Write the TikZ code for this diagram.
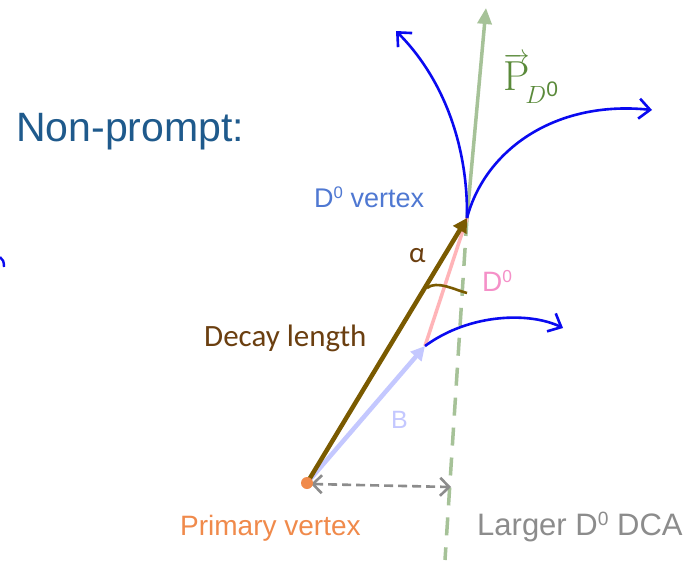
\documentclass[tikz,border=0pt]{standalone}
\usepackage{fontspec}
\setmainfont{Liberation Sans}
\newfontfamily\calib{Carlito}
\newfontfamily\lmr{Latin Modern Roman}
\usetikzlibrary{arrows.meta}
\definecolor{titleblue}{HTML}{1F5A8C}
\definecolor{vtxblue}{HTML}{4F78D2}
\definecolor{trk}{HTML}{0A0AF0}
\definecolor{brownc}{HTML}{7A5A00}
\definecolor{browntxt}{HTML}{6B3F10}
\definecolor{lav}{HTML}{C4C8FF}
\definecolor{pinkc}{HTML}{FFB4B8}
\definecolor{pinktxt}{HTML}{F590C8}
\definecolor{greenl}{HTML}{A6C298}
\definecolor{greentxt}{HTML}{5A8A3A}
\definecolor{grayc}{HTML}{8C8C8C}
\definecolor{orangec}{HTML}{F08A4B}
\newcommand{\supz}{\raisebox{0.32em}{\scalebox{0.62}{0}}}
\tikzset{
  track/.style={trk, line width=2.6pt, -{Straight Barb[length=11pt,width=20pt]}},
  lbl/.style={inner sep=0pt, anchor=base west},
}
\begin{document}
\begin{tikzpicture}[x=1pt,y=-1pt]
\useasboundingbox (0,0) rectangle (685,560);
\fill[white] (0,0) rectangle (685,560);
% coordinates
\coordinate (pv) at (307,483);
\coordinate (dv) at (467,218);
\coordinate (bend) at (425,346);
\coordinate (gtop) at (486,8);
\coordinate (gbot) at (445,560);
\coordinate (dca) at (451,487);
% green momentum line
\draw[greenl, line width=3.5pt, dash pattern=on 18pt off 12pt] (dv) -- (gbot);
\draw[greenl, line width=3.5pt, -{Triangle[length=16pt,width=14pt]}] (dv) -- (gtop);
% pink D0 flight
\draw[pinkc, line width=3.5pt] (bend) -- (dv);
% B flight
\draw[lav, line width=4.5pt, -{Triangle[length=14pt,width=14pt]}] (pv) -- (bend);
% decay length
\draw[brownc, line width=4.5pt, -{Triangle[length=14pt,width=15pt]}] (pv) -- (dv);
% alpha arc
\coordinate (a1) at (427,288);
\coordinate (a2) at (467,293);
\draw[brownc, line width=2.6pt] (a1) .. controls (437,280) and (455,290) .. (a2);
% tracks
\draw[track] (dv) .. controls (468,140) and (440,75) .. (396,31);
\draw[track] (dv) .. controls (485,150) and (555,100) .. (652,110);
\draw[track] (bend) .. controls (470,313) and (530,312) .. (563,328);
\draw[trk, line width=2.4pt] (0,257) .. controls (3,259) and (4,262) .. (4,267);
% DCA
\draw[grayc, line width=2.6pt, dash pattern=on 9pt off 5pt, {Straight Barb[length=9pt,width=18pt]}-{Straight Barb[length=9pt,width=18pt]}] (311,484) -- (dca);
% primary vertex dot
\fill[orangec] (pv) circle (6pt);
% labels
\node[lbl, titleblue, font=\fontsize{41}{44}\selectfont] (np) at (16,141) {Non-prompt:};
\node[lbl, vtxblue, font=\fontsize{27}{29}\selectfont] (dvl) at (314,207) {D\supz{} vertex};
\node[lbl, browntxt, font=\calib\fontsize{31}{33}\selectfont] (dl) at (204,346) {Decay length};
\node[lbl, browntxt, font=\calib\fontsize{29}{31}\selectfont] (al) at (409,262) {α};
\node[lbl, pinktxt, font=\fontsize{28}{30}\selectfont] (d0l) at (482,291) {D\supz};
\node[lbl, lav, font=\fontsize{25}{27}\selectfont] (bl) at (391,428) {B};
\node[lbl, orangec, font=\fontsize{28}{30}\selectfont] (pvl) at (180,535) {Primary vertex};
\node[lbl, grayc, font=\fontsize{31}{33}\selectfont] (dcal) at (477,535) {Larger D\supz{} DCA};
\node[lbl, greentxt, font=\fontsize{42}{44}\selectfont] (pl) at (503,90) {$\overrightarrow{\hbox{\lmr P}}_{\!D^{\mathrm{0}}}$};
\end{tikzpicture}
\end{document}
